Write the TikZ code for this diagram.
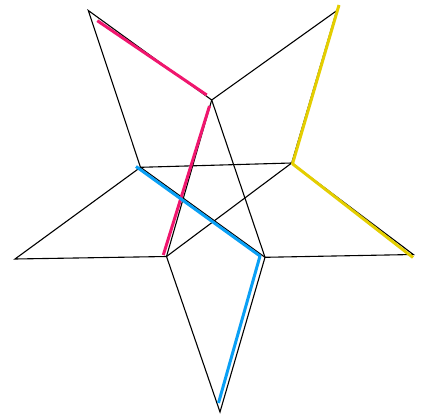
\documentclass[tikz,border=0pt]{standalone}
\begin{document}
\begin{tikzpicture}[x=1pt,y=-1pt,
  edge/.style={draw=black,line width=1.1pt},
  hl/.style={line width=3pt,line join=round},
  pinkhl/.style={hl,draw=hlpink},
  yellowhl/.style={hl,draw=hlyellow},
  bluehl/.style={hl,draw=hlblue}]
\definecolor{hlpink}{RGB}{240,22,110}
\definecolor{hlyellow}{RGB}{228,206,0}
\definecolor{hlblue}{RGB}{10,160,245}
\useasboundingbox (0,0) rectangle (427,414);
% outer tips and inner corners
\coordinate (T1) at (88.3,10.5);
\coordinate (I1) at (211.7,100);
\coordinate (T2) at (336.7,10.7);
\coordinate (I2) at (291.7,163);
\coordinate (T3) at (413.3,254.5);
\coordinate (I3) at (265,257.3);
\coordinate (T4) at (220,412);
\coordinate (I4) at (166.5,256.5);
\coordinate (T5) at (15,259);
\coordinate (I5) at (140.5,167.3);
% star outline
\draw[edge,line join=miter] (T1) -- (I1) -- (T2) -- (I2) -- (T3) -- (I3) -- (T4) -- (I4) -- (T5) -- (I5) -- cycle;
% inner pentagram
\draw[edge] (I5) -- (I2);
\draw[edge] (I2) -- (I4);
\draw[edge] (I4) -- (I1);
\draw[edge] (I1) -- (I3);
\draw[edge] (I3) -- (I5);
% highlights
\coordinate (P1a) at (97.3,20.7);
\coordinate (P1b) at (206.7,95);
\coordinate (P2a) at (209.5,106);
\coordinate (P2b) at (163.3,255);
\draw[pinkhl] (P1a) -- (P1b);
\draw[pinkhl] (P2a) -- (P2b);
\coordinate (Ya) at (339,5);
\coordinate (Yb) at (292.5,163.8);
\coordinate (Yc) at (413,257.5);
\draw[yellowhl] (Ya) -- (Yb) -- (Yc);
\coordinate (Ba) at (136,166.5);
\coordinate (Bb) at (260,256);
\coordinate (Bc) at (218.5,403);
\draw[bluehl] (Ba) -- (Bb) -- (Bc);
\end{tikzpicture}
\end{document}
